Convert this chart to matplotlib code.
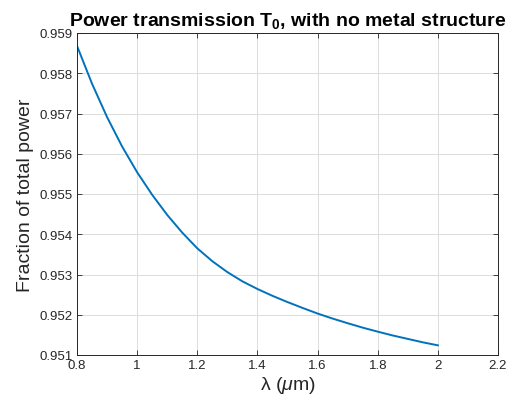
import matplotlib
matplotlib.use("Agg")
import matplotlib.pyplot as plt
import numpy as np

wavelength = [0.80, 0.85, 0.90, 0.95, 1.00, 1.05, 1.10, 1.15, 1.20, 1.25, 1.30, 1.35,
              1.40, 1.45, 1.50, 1.55, 1.60, 1.65, 1.70, 1.75, 1.80, 1.85, 1.90, 1.95, 2.00]
transmission = [0.95868, 0.95774, 0.95691, 0.95618, 0.95554, 0.95498, 0.95448, 0.95404,
                0.95365, 0.95333, 0.95306, 0.95283, 0.95264, 0.95247, 0.952315, 0.95217,
                0.95203, 0.951905, 0.95179, 0.95168, 0.95158, 0.951485, 0.9514, 0.951315,
                0.95124]
xticks = [0.8, 1.0, 1.2, 1.4, 1.6, 1.8, 2.0, 2.2]
xticklabels = ["0.8", "1", "1.2", "1.4", "1.6", "1.8", "2", "2.2"]
yticks = [0.951, 0.952, 0.953, 0.954, 0.955, 0.956, 0.957, 0.958, 0.959]
yticklabels = ["0.951", "0.952", "0.953", "0.954", "0.955", "0.956", "0.957", "0.958", "0.959"]

plt.rcParams['font.family'] = ['Liberation Sans', 'DejaVu Sans']
plt.rcParams['mathtext.fontset'] = 'custom'
plt.rcParams['mathtext.rm'] = 'Liberation Sans'
plt.rcParams['mathtext.bf'] = 'Liberation Sans:bold'
plt.rcParams['mathtext.it'] = 'Liberation Sans:italic'

dark = '#262626'
fig = plt.figure(figsize=(5.16, 4.10), dpi=100)
ax = fig.add_axes([77/516, 1-356/410, (498-77)/516, (356-34)/410])

ax.plot(wavelength, transmission, color='#0072BD', lw=1.4, solid_joinstyle='round')

ax.set_xlim(0.8, 2.2)
ax.set_ylim(0.951, 0.959)
ax.set_xticks(xticks)
ax.set_xticklabels(xticklabels)
ax.set_yticks(yticks)
ax.set_yticklabels(yticklabels)
ax.grid(True, color='#dcdcdc', lw=0.7)
ax.set_axisbelow(True)
ax.tick_params(direction='in', length=3.5, width=0.6, colors=dark, labelsize=9.5,
               top=True, right=True, pad=3)
for s in ax.spines.values():
    s.set_color(dark)
    s.set_linewidth(0.7)

ax.set_xlabel(r"λ ($\mathit{\mu}$m)", fontsize=14, color=dark, labelpad=2)
ax.set_ylabel("Fraction of total power", fontsize=14, color=dark, labelpad=4)
ax.set_title(r"Power transmission T$_{\mathbf{0}}$, with no metal structure",
             fontsize=14, fontweight='bold', color='black', pad=6)

fig.savefig("out.png", dpi=100)
